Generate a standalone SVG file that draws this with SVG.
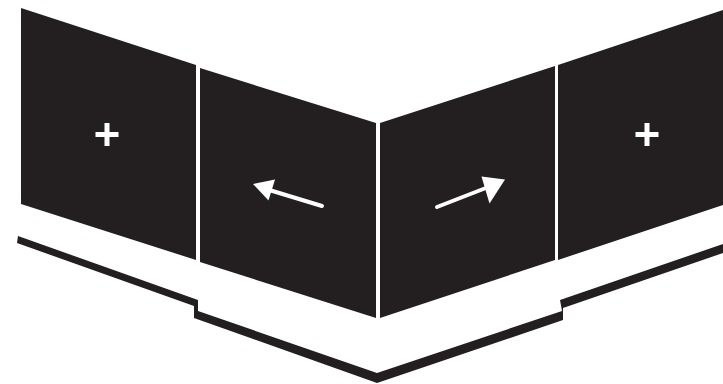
<svg xmlns="http://www.w3.org/2000/svg" width="723" height="384" viewBox="0 0 723 384">
  <style>
    .panel { fill: #231f20; }
    .icon { fill: #ffffff; }
    .shaft { stroke: #ffffff; stroke-width: 4; stroke-linecap: round; fill: none; }
    .base { fill: #231f20; }
  </style>
  <rect width="723" height="384" fill="#ffffff"/>
  <g id="panel-left-outer">
    <polygon class="panel" points="21,8 196,65 196,260 21,204"/>
    <path class="icon" d="M104.5,123 h5 v9 h9 v5 h-9 v9 h-5 v-9 h-9 v-5 h9 z"/>
  </g>
  <g id="panel-left-inner">
    <polygon class="panel" points="200,68 376,123 376,318 200,262"/>
    <line class="shaft" x1="322" y1="206" x2="266" y2="189"/>
    <polygon class="icon" points="253,184 275,179.5 268.5,200.5"/>
  </g>
  <g id="panel-right-inner">
    <polygon class="panel" points="380,123 555,66 555,260 380,318"/>
    <line class="shaft" x1="437" y1="207" x2="491" y2="186"/>
    <polygon class="icon" points="505,179.5 481.5,176.5 489.5,203.5"/>
  </g>
  <g id="panel-right-outer">
    <polygon class="panel" points="558,65 723,10 723,205 558,260"/>
    <path class="icon" d="M644.5,123 h5 v9 h9 v5 h-9 v9 h-5 v-9 h-9 v-5 h9 z"/>
  </g>
  <g id="base">
    <polygon class="base" points="18,236 198,300 198,311 377,373 562,311 560,300 723,244 723,253 563,308 563,320 377,383 194,318 194,306 17,243"/>
  </g>
</svg>
